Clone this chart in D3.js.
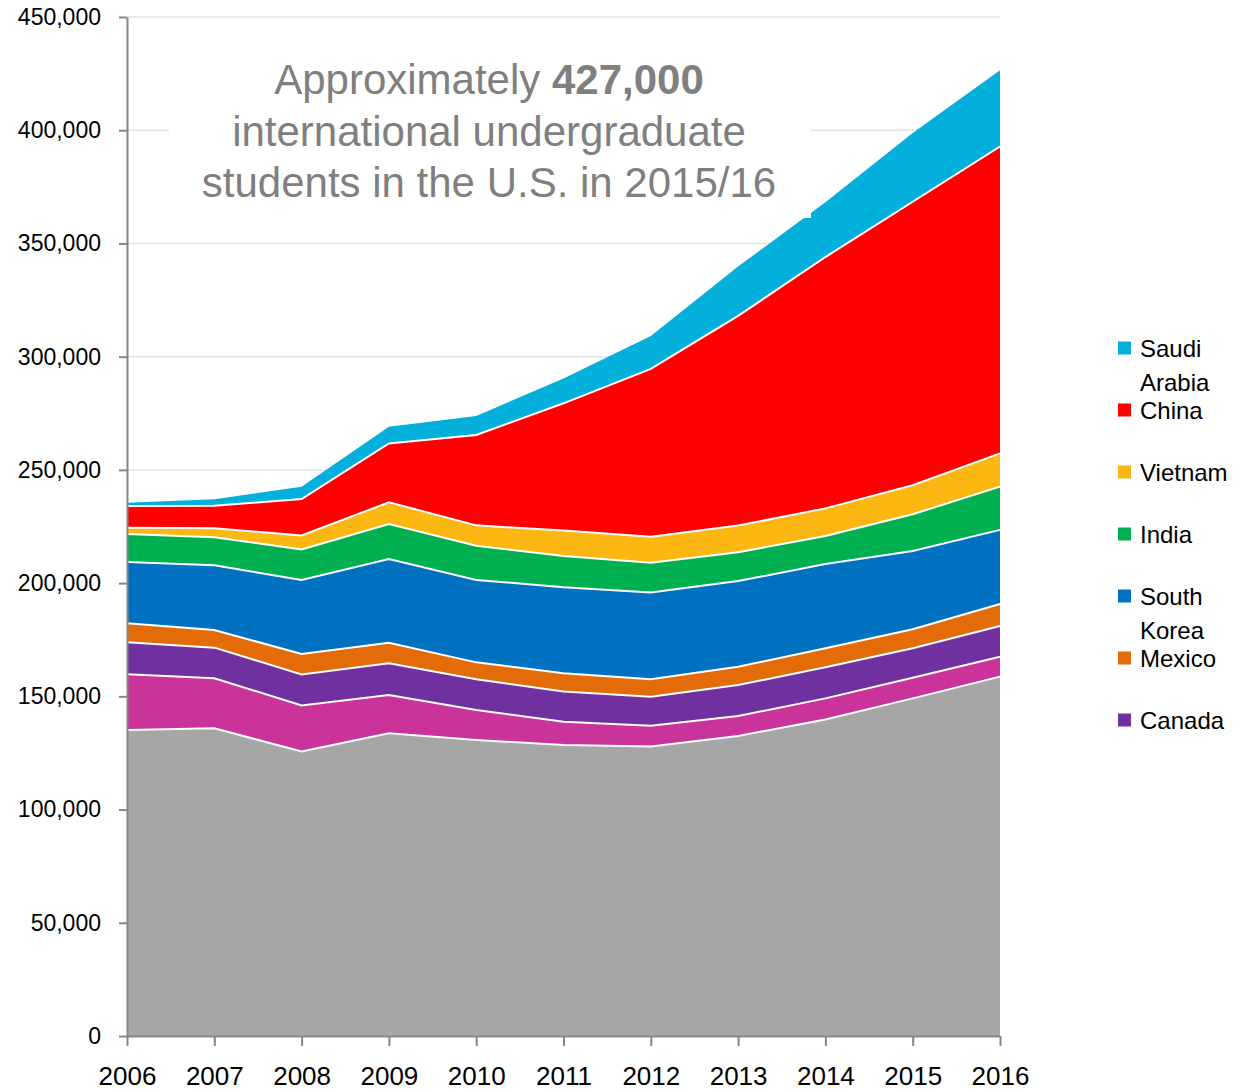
<!DOCTYPE html>
<html>
<head>
<meta charset="utf-8">
<script src="https://cdn.jsdelivr.net/npm/d3@7"></script>
<style>
  body { margin: 0; background: #fff; }
  svg { display: block; }
</style>
</head>
<body>
<svg width="1242" height="1092"></svg>
<script>
// Data (students)
const years = [2006, 2007, 2008, 2009, 2010, 2011, 2012, 2013, 2014, 2015, 2016];
const otherCountries = [135100, 135900, 125600, 133700, 130700, 128500, 127800, 132500, 139800, 149100, 158700];
const pinkSeries = [24600, 22100, 20400, 16900, 13300, 10300, 9200, 8800, 9300, 9100, 8800];
const canada = [14200, 13500, 13700, 14000, 13500, 13300, 12800, 13700, 13700, 13000, 13600];
const mexico = [8400, 7800, 9000, 9100, 7500, 8100, 7700, 8100, 8400, 8400, 9700];
const southKorea = [27000, 28600, 32700, 36900, 36400, 38000, 38400, 37800, 37200, 34600, 32700];
const india = [12400, 12300, 13500, 15500, 15100, 13800, 13100, 12700, 12400, 16200, 19100];
const vietnam = [2800, 4000, 6100, 9600, 9000, 11200, 11500, 11800, 12200, 12800, 14700];
const china = [9600, 10000, 16100, 26000, 39900, 56200, 74100, 92600, 111000, 125200, 135500];
const saudiArabia = [1400, 2800, 5500, 7400, 8400, 11000, 14500, 21800, 24200, 30400, 33700];

const yTicks = [0, 50000, 100000, 150000, 200000, 250000, 300000, 350000, 400000, 450000];
const keys = ["other", "pink", "canada", "mexico", "southKorea", "india", "vietnam", "china", "saudi"];
const colors = ["#a6a6a6", "#c9339a", "#7030a0", "#e36c09", "#0070c0", "#00b050", "#fdb712", "#ff0000", "#03afdb"];
const legendKeys = ["saudi", "china", "vietnam", "india", "southKorea", "mexico", "canada"];
const legendLabels = [["Saudi", "Arabia"], ["China"], ["Vietnam"], ["India"], ["South", "Korea"], ["Mexico"], ["Canada"]];
const noteLines = ["international undergraduate", "students in the U.S. in 2015/16"];

const rows = years.map((yr, i) => ({
  year: yr,
  other: otherCountries[i],
  pink: pinkSeries[i],
  canada: canada[i],
  mexico: mexico[i],
  southKorea: southKorea[i],
  india: india[i],
  vietnam: vietnam[i],
  china: china[i],
  saudi: saudiArabia[i]
}));

let x = d3.scaleLinear().domain([2006, 2016]).range([127, 1000]);
let y = d3.scaleLinear().domain([0, 450000]).range([1036, 17]);
let color = d3.scaleOrdinal().domain(keys).range(colors);

let svg = d3.select("svg");
const font = "'Liberation Sans', Arial, sans-serif";

// gridlines
svg.append("g")
  .selectAll("line")
  .data(yTicks.slice(1))
  .enter()
  .append("line")
  .attr("x1", x(2006))
  .attr("x2", x(2016))
  .attr("y1", d => y(d))
  .attr("y2", d => y(d))
  .style("stroke", "#e4e4e4")
  .style("stroke-width", 1.5);

// stacked areas
let series = d3.stack().keys(keys)(rows);

let area = d3.area()
  .x(d => x(d.data.year))
  .y0(d => y(d[0]))
  .y1(d => y(d[1]));

let topLine = d3.line()
  .x(d => x(d.data.year))
  .y(d => y(d[1]));

svg.append("g")
  .selectAll("path")
  .data(series)
  .enter()
  .append("path")
  .attr("d", area)
  .style("fill", d => color(d.key));

svg.append("g")
  .selectAll("path")
  .data(series.slice(0, -1))
  .enter()
  .append("path")
  .attr("d", topLine)
  .style("fill", "none")
  .style("stroke", "#fff")
  .style("stroke-width", 2);

// annotation box
svg.append("rect")
  .attr("x", 169)
  .attr("y", 38)
  .attr("width", 642)
  .attr("height", 180)
  .style("fill", "#fff");

let note = svg.append("text")
  .attr("x", 489)
  .attr("y", 94)
  .attr("text-anchor", "middle")
  .style("font-family", font)
  .style("font-size", "42px")
  .style("fill", "#7f7f7f");
note.append("tspan").text("Approximately ");
note.append("tspan").style("font-weight", "bold").text("427,000");

svg.append("g")
  .selectAll("text")
  .data(noteLines)
  .enter()
  .append("text")
  .attr("x", 489)
  .attr("y", (d, i) => 145.5 + i * 51.5)
  .attr("text-anchor", "middle")
  .style("font-family", font)
  .style("font-size", "42px")
  .style("fill", "#7f7f7f")
  .text(d => d);

// axes
let yAxis = d3.axisLeft(y)
  .tickValues(yTicks)
  .tickSize(8)
  .tickSizeOuter(0)
  .tickPadding(18)
  .tickFormat(d3.format(","));

let xAxis = d3.axisBottom(x)
  .tickValues(years)
  .tickSize(10)
  .tickSizeOuter(0)
  .tickPadding(21)
  .tickFormat(d3.format("d"));

let gy = svg.append("g")
  .attr("transform", "translate(127,0)")
  .call(yAxis);
gy.selectAll("text")
  .style("font-family", font)
  .style("font-size", "23px")
  .style("fill", "#000");

let gx = svg.append("g")
  .attr("transform", "translate(0,1036)")
  .call(xAxis);
gx.selectAll("text")
  .style("font-family", font)
  .style("font-size", "26px")
  .style("fill", "#000");

svg.selectAll(".domain, .tick line")
  .style("stroke", "#868686")
  .style("stroke-width", 2);

// legend
let legend = svg.append("g")
  .selectAll("g")
  .data(legendKeys)
  .enter()
  .append("g")
  .attr("transform", (d, i) => "translate(1118," + (348 + i * 62) + ")");

legend.append("rect")
  .attr("x", 0)
  .attr("y", -6.5)
  .attr("width", 13)
  .attr("height", 13)
  .style("fill", d => color(d));

legend.append("text")
  .attr("x", 22)
  .attr("y", 8.5)
  .style("font-family", font)
  .style("font-size", "24px")
  .style("fill", "#000")
  .selectAll("tspan")
  .data((d, i) => legendLabels[i])
  .enter()
  .append("tspan")
  .attr("x", 22)
  .attr("dy", (d, j) => (j === 0 ? 0 : 34))
  .text(d => d);
</script>
</body>
</html>
